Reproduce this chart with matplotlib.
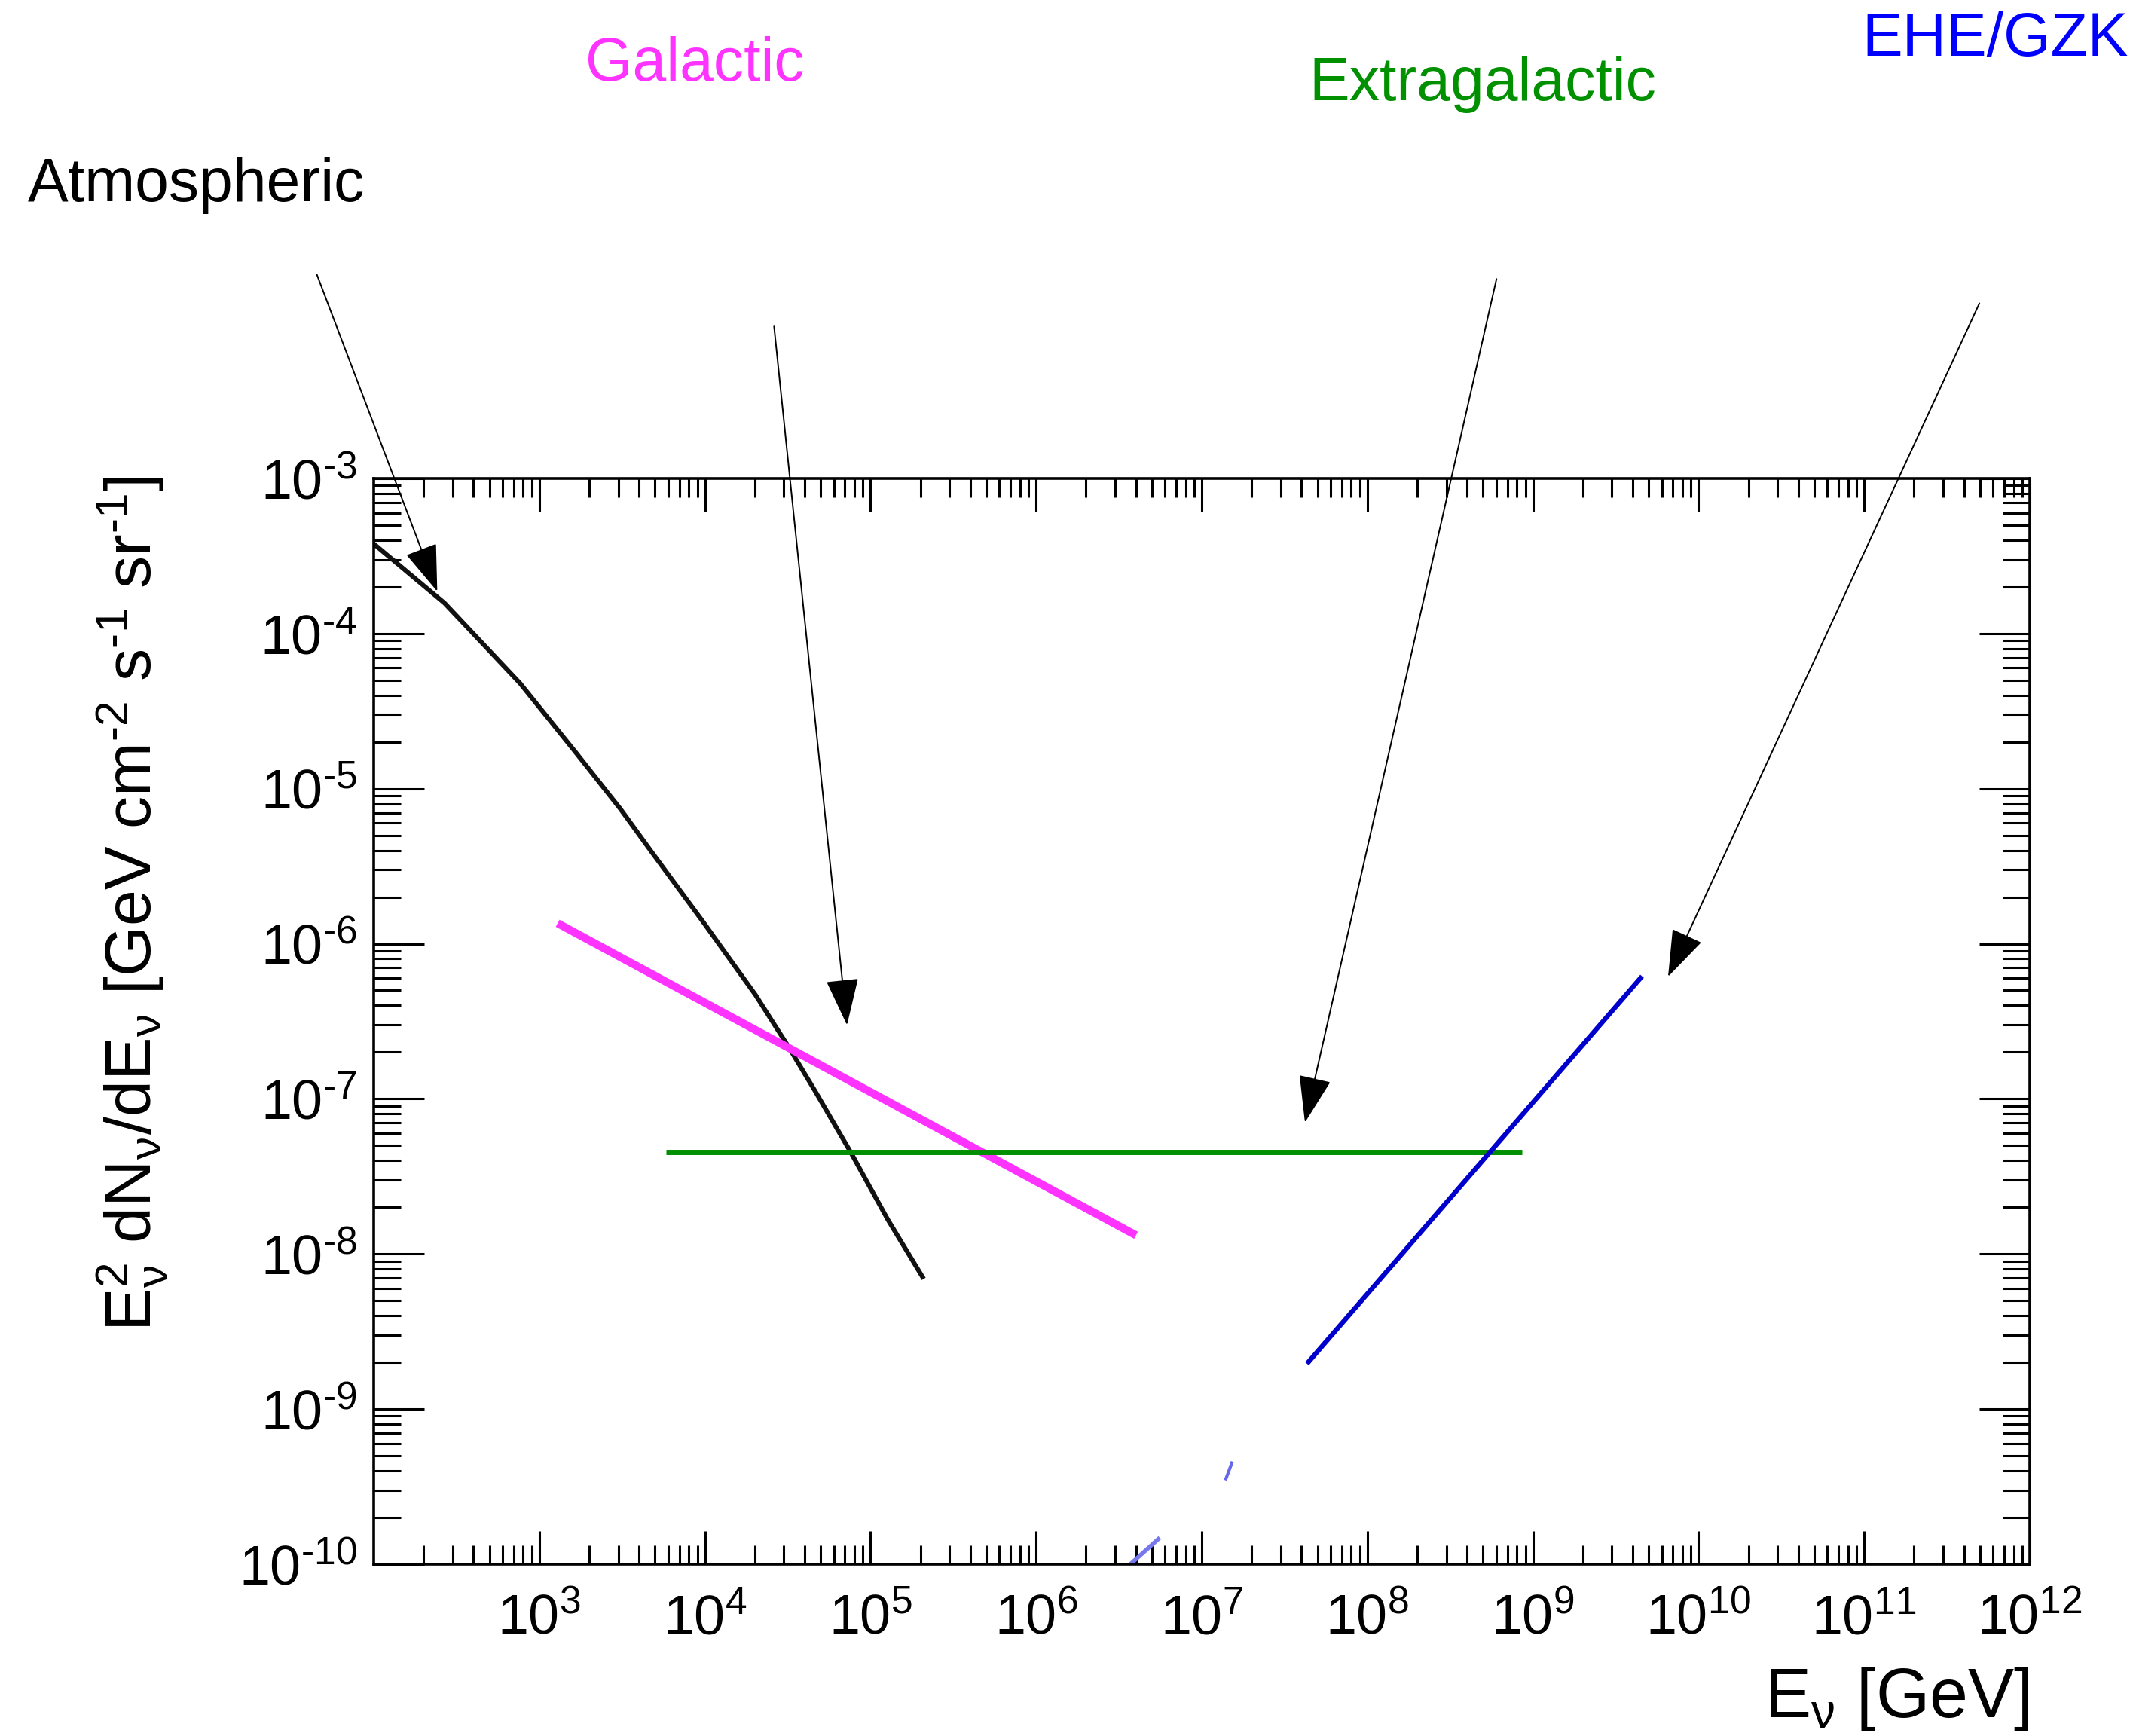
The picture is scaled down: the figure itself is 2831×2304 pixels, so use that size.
import matplotlib.pyplot as plt
from matplotlib.ticker import LogLocator, NullFormatter

# Atmospheric flux (black curve)
atm_energy = [1.0e2, 2.68e2, 7.64e2, 1.64e3, 3.08e3, 4.86e3, 9.77e3, 2.02e4, 3.22e4, 4.68e4, 7.57e4, 1.27e5, 2.06e5]
atm_flux = [3.79e-4, 1.57e-4, 4.79e-5, 1.74e-5, 7.43e-6, 3.80e-6, 1.38e-6, 4.68e-7, 2.14e-7, 1.10e-7, 4.55e-8, 1.67e-8, 7.11e-9]

# Galactic (magenta), Extragalactic (green), EHE/GZK (blue) straight lines
gal_energy = [1.29e3, 4.01e6]
gal_flux = [1.355e-6, 1.32e-8]
extra_energy = [5.8e3, 8.6e8]
extra_flux = [4.55e-8, 4.55e-8]
ehe_energy = [4.32e7, 4.56e9]
ehe_flux = [1.96e-9, 6.17e-7]

# leftover bits of erased curves
rest1_energy = [1.40e7, 1.52e7]
rest1_flux = [3.55e-10, 4.49e-10]
rest2_energy = [3.71e6, 5.46e6]
rest2_flux = [1.0e-10, 1.45e-10]

x_ticks = [10.0 ** k for k in range(3, 13)]
x_labels = [r'$\mathregular{10^{%d}}$' % k for k in range(3, 13)]
y_ticks = [10.0 ** -k for k in range(3, 11)]
y_labels = [r'$\mathregular{10^{\text{-}%d}}$' % k for k in range(3, 11)]

# arrows: tip (data) and tail (figure fraction)
arrow_tips = [(2.42e2, 1.87e-4), (7.21e4, 2.99e-7), (4.2e7, 7.04e-8), (6.55e9, 6.14e-7)]
arrow_tails = [(0.1486, 0.8417), (0.3629, 0.8120), (0.7016, 0.8393), (0.9280, 0.8253)]

labels = ['Atmospheric', 'Galactic', 'Extragalactic', 'EHE/GZK']
label_colors = ['black', '#ff33ff', '#009000', '#0000ff']
label_pos = [(0.0129, 0.8842), (0.2745, 0.9537), (0.6137, 0.9421), (0.8730, 0.9679)]

plt.rcParams['font.family'] = ['Liberation Sans', 'DejaVu Sans']
plt.rcParams['mathtext.fontset'] = 'custom'
plt.rcParams['mathtext.rm'] = 'Liberation Sans'
plt.rcParams['mathtext.it'] = 'Liberation Sans:italic'
plt.rcParams['mathtext.bf'] = 'Liberation Sans:bold'

fig = plt.figure(figsize=(14.155, 11.52), dpi=200)
ax = fig.add_axes([0.1752, 0.099, 0.7764, 0.6254])

ax.plot(atm_energy, atm_flux, color='#111111', lw=2.2, solid_joinstyle='round')
ax.plot(gal_energy, gal_flux, color='#ff33ff', lw=3.8, solid_capstyle='butt')
ax.plot(extra_energy, extra_flux, color='#008f00', lw=2.5, solid_capstyle='butt')
ax.plot(ehe_energy, ehe_flux, color='#0000cc', lw=2.3, solid_capstyle='butt')
ax.plot(rest1_energy, rest1_flux, color='#6666ee', lw=1.5)
ax.plot(rest2_energy, rest2_flux, color='#7777ee', lw=2.0)

ax.set_xscale('log')
ax.set_yscale('log')
ax.set_xlim(1e2, 1e12)
ax.set_ylim(1e-10, 1e-3)

ax.set_xticks(x_ticks, x_labels)
ax.set_yticks(y_ticks, y_labels)
ax.xaxis.set_minor_locator(LogLocator(base=10, subs=range(2, 10), numticks=50))
ax.yaxis.set_minor_locator(LogLocator(base=10, subs=range(2, 10), numticks=50))
ax.xaxis.set_minor_formatter(NullFormatter())
ax.yaxis.set_minor_formatter(NullFormatter())

ax.tick_params(which='both', direction='in', top=True, right=True, width=1.1, labelsize=26.5)
ax.tick_params(axis='x', which='major', length=16, pad=14)
ax.tick_params(axis='x', which='minor', length=9)
ax.tick_params(axis='y', which='major', length=24, pad=8)
ax.tick_params(axis='y', which='minor', length=13)
for s in ax.spines.values():
    s.set_linewidth(1.3)

# axis titles, ROOT style (aligned to the ends)
fig.text(0.0619, 0.7257,
         r'$\mathregular{E_{\nu}^{2}\ dN_{\nu}/dE_{\nu}\ [GeV\ cm^{\text{-}2}\ s^{\text{-}1}\ sr^{\text{-}1}]}$',
         rotation=90, ha='center', va='top', fontsize=31)
fig.text(0.9516, 0.011, r'$\mathregular{E_{\nu}\ [GeV]}$', ha='right', va='baseline', fontsize=33)

# labels and arrows above the frame
for name, col, pos in zip(labels, label_colors, label_pos):
    fig.text(pos[0], pos[1], name, color=col, fontsize=29, ha='left', va='baseline')

for tip, tail in zip(arrow_tips, arrow_tails):
    ax.annotate('', xy=tip, xycoords='data', xytext=tail, textcoords='figure fraction',
                arrowprops=dict(arrowstyle='-|>,head_length=20,head_width=7', mutation_scale=1,
                                lw=0.7, color='black', shrinkA=0, shrinkB=0),
                annotation_clip=False)

fig.savefig('out.png', dpi=200, facecolor='white')
